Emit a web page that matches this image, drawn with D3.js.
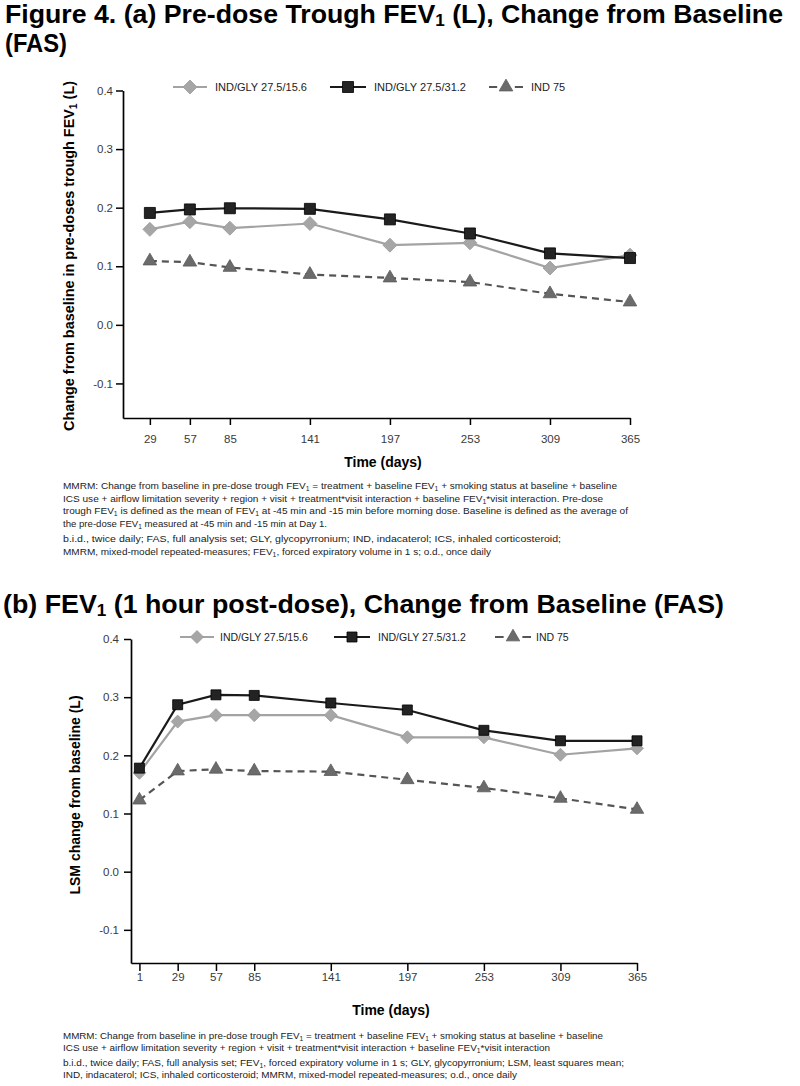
<!DOCTYPE html>
<html><head><meta charset="utf-8">
<script src="https://cdn.jsdelivr.net/npm/d3@7"></script>
<style>
body{margin:0;background:#fff}
svg{display:block}
text{font-family:"Liberation Sans",Arial,sans-serif}
</style>
</head><body>
<svg id="c" width="800" height="1086"></svg>
<script>
// ---------- data ----------
const seriesNames = ["IND/GLY 27.5/15.6", "IND/GLY 27.5/31.2", "IND 75"];
const daysA = [29, 57, 85, 141, 197, 253, 309, 365];
const daysB = [1, 29, 57, 85, 141, 197, 253, 309, 365];
const yTicks = [-0.1, 0.0, 0.1, 0.2, 0.3, 0.4];
// (a) pre-dose trough FEV1
const aGly156 = [0.163, 0.176, 0.165, 0.173, 0.136, 0.140, 0.097, 0.119];
const aGly312 = [0.191, 0.197, 0.199, 0.198, 0.180, 0.156, 0.122, 0.114];
const aInd75  = [0.109, 0.107, 0.098, 0.086, 0.080, 0.073, 0.053, 0.039];
// (b) FEV1 1 hour post-dose
const bGly156 = [0.170, 0.258, 0.269, 0.269, 0.269, 0.231, 0.231, 0.201, 0.212];
const bGly312 = [0.178, 0.287, 0.304, 0.303, 0.290, 0.278, 0.243, 0.225, 0.225];
const bInd75  = [0.123, 0.173, 0.176, 0.173, 0.172, 0.158, 0.144, 0.126, 0.107];

const titleA1 = "Figure 4. (a) Pre-dose Trough FEV_1 (L), Change from Baseline";
const titleA2 = "(FAS)";
const titleB  = "(b) FEV_1 (1 hour post-dose), Change from Baseline (FAS)";
const yLabelA = "Change from baseline in pre-doses trough FEV_1 (L)";
const yLabelB = "LSM change from baseline (L)";
const xLabel  = "Time (days)";
const notesA = [
  "MMRM: Change from baseline in pre-dose trough FEV_1 = treatment + baseline FEV_1 + smoking status at baseline + baseline",
  "ICS use + airflow limitation severity + region + visit + treatment*visit interaction + baseline FEV_1*visit interaction. Pre-dose",
  "trough FEV_1 is defined as the mean of FEV_1 at -45 min and -15 min before morning dose. Baseline is defined as the average of",
  "the pre-dose FEV_1 measured at -45 min and -15 min at Day 1.",
  "b.i.d., twice daily; FAS, full analysis set; GLY, glycopyrronium; IND, indacaterol; ICS, inhaled corticosteroid;",
  "MMRM, mixed-model repeated-measures; FEV_1, forced expiratory volume in 1 s; o.d., once daily"
];
const notesB = [
  "MMRM: Change from baseline in pre-dose trough FEV_1 = treatment + baseline FEV_1 + smoking status at baseline + baseline",
  "ICS use + airflow limitation severity + region + visit + treatment*visit interaction + baseline FEV_1*visit interaction",
  "b.i.d., twice daily; FAS, full analysis set; FEV_1, forced expiratory volume in 1 s; GLY, glycopyrronium; LSM, least squares mean;",
  "IND, indacaterol; ICS, inhaled corticosteroid; MMRM, mixed-model repeated-measures; o.d., once daily"
];

// ---------- helpers ----------
const svg = d3.select("#c");

function rich(t, str, subSize, subDy) {
  const parts = str.split("_1");
  parts.forEach((p, i) => {
    if (i > 0) {
      t.append("tspan").attr("font-size", subSize).attr("dy", subDy).text("1");
      if (p !== "") t.append("tspan").attr("dy", -subDy).text(p);
    } else if (p !== "") t.append("tspan").text(p);
  });
  return t;
}

function text(x, y, str, o) {
  const t = svg.append("text").attr("x", x).attr("y", y)
    .attr("font-size", o.size).attr("fill", o.fill || "#000")
    .attr("font-weight", o.bold ? "bold" : null)
    .attr("text-anchor", o.anchor || "start");
  if (o.rotate) t.attr("transform", `rotate(-90 ${x} ${y})`);
  rich(t, str, o.subSize || o.size * 0.7, o.subDy || o.size * 0.2);
  if (o.len) t.attr("textLength", o.len).attr("lengthAdjust", "spacingAndGlyphs");
  return t;
}

const styles = [
  {shape: "diamond", line: "#a3a3a3", fill: "#a6a6a6", stroke: "#9a9a9a", dash: null},
  {shape: "square",  line: "#1a1a1a", fill: "#232323", stroke: "#000",    dash: null},
  {shape: "triangle",line: "#555555", fill: "#6b6b6b", stroke: "#5a5a5a", dash: "7,5"}
];

function markerPath(shape, s) {
  if (shape === "square") return d3.symbol(d3.symbolSquare, s.sq * s.sq)();
  if (shape === "diamond") {
    const r = s.dia;
    return `M0,${-r}L${r},0L0,${r}L${-r},0Z`;
  }
  return d3.symbol(d3.symbolTriangle, s.tri)();
}

function panel(cfg) {
  const x = d3.scaleLinear().domain(cfg.xDomain).range(cfg.xRange);
  const y = d3.scaleLinear().domain(cfg.yDomain).range(cfg.yRange);
  const g = svg.append("g");

  const yAxis = g.append("g").attr("transform", `translate(${cfg.xRange[0]},0)`)
    .call(d3.axisLeft(y).tickValues(yTicks).tickFormat(d => d.toFixed(1))
      .tickSize(7).tickSizeOuter(0).tickPadding(cfg.yPad));
  const xAxis = g.append("g").attr("transform", `translate(0,${cfg.yRange[0]})`)
    .call(d3.axisBottom(x).tickValues(cfg.days).tickFormat(d3.format("d"))
      .tickSize(cfg.xTick).tickSizeOuter(0).tickPadding(cfg.xPad));
  [yAxis, xAxis].forEach(a => {
    a.select(".domain").attr("stroke", "#000").attr("stroke-width", 1.7);
    a.selectAll(".tick line").attr("stroke", "#000").attr("stroke-width", 1.5);
    a.selectAll(".tick text").attr("fill", "#3a3a3a").attr("font-size", 11.5)
      .attr("font-family", '"Liberation Sans",Arial,sans-serif');
  });

  const data = [cfg.s156, cfg.s312, cfg.i75];
  const order = [2, 0, 1];
  order.forEach(k => {
    const st = styles[k];
    const pts = cfg.days.map((d, i) => [x(d), y(data[k][i])]);
    g.append("path").attr("d", d3.line()(pts)).attr("fill", "none")
      .attr("stroke", st.line).attr("stroke-width", 2.2)
      .attr("stroke-dasharray", st.dash);
    g.selectAll(null).data(pts).join("path")
      .attr("transform", p => `translate(${p[0]},${p[1]})`)
      .attr("d", markerPath(st.shape, cfg.mk))
      .attr("fill", st.fill).attr("stroke", st.stroke).attr("stroke-width", 0.8);
  });

  // legend
  cfg.legend.forEach((L, k) => {
    const st = styles[k];
    const ln = g.append("line").attr("x1", L.x0).attr("x2", L.x1)
      .attr("y1", cfg.legY).attr("y2", cfg.legY)
      .attr("stroke", st.line).attr("stroke-width", 2.2);
    if (st.dash) ln.attr("stroke-dasharray", `${(L.x1 - L.x0) * 0.24},${(L.x1 - L.x0) * 0.52}`);
    g.append("path").attr("transform", `translate(${(L.x0 + L.x1) / 2},${cfg.legY})`)
      .attr("d", markerPath(st.shape, cfg.mk))
      .attr("fill", st.fill).attr("stroke", st.stroke).attr("stroke-width", 0.8);
    text(L.tx, cfg.legY + 4, seriesNames[k], {size: cfg.legSize, fill: "#222"});
  });

  text(cfg.xLabX, cfg.xLabY, xLabel, {size: 14, bold: true, anchor: "middle"});
  text(cfg.yLabX, cfg.yLabY, cfg.yLabel, {size: 14, bold: true, anchor: "middle", rotate: true,
    subSize: 10, subDy: 3, len: cfg.yLabLen});
}

// ---------- titles ----------
text(5, 23, titleA1, {size: 25, bold: true, subSize: 16, subDy: 3, len: 778});
text(5, 52, titleA2, {size: 25, bold: true, len: 62});
text(3, 613, titleB, {size: 25, bold: true, subSize: 16, subDy: 3, len: 721});

// ---------- panel a ----------
panel({
  days: daysA, s156: aGly156, s312: aGly312, i75: aInd75,
  xDomain: [10.2, 365], xRange: [123, 630],
  yDomain: [-0.159, 0.4], yRange: [418, 90.5],
  yPad: 3, xTick: 7, xPad: 10,
  mk: {sq: 11, dia: 7, tri: 80},
  legY: 87, legSize: 11,
  legend: [{x0: 173, x1: 207, tx: 215}, {x0: 330, x1: 366, tx: 374}, {x0: 489, x1: 523, tx: 531}],
  xLabX: 383, xLabY: 467,
  yLabel: yLabelA, yLabX: 74, yLabY: 256, yLabLen: 350
});

// ---------- panel b ----------
panel({
  days: daysB, s156: bGly156, s312: bGly312, i75: bInd75,
  xDomain: [-5.15, 365], xRange: [131, 637],
  yDomain: [-0.157, 0.4], yRange: [963, 639],
  yPad: 5, xTick: 8, xPad: 2,
  mk: {sq: 10, dia: 6.5, tri: 78},
  legY: 637, legSize: 10.5,
  legend: [{x0: 180, x1: 214, tx: 220}, {x0: 334, x1: 370, tx: 378}, {x0: 495, x1: 531, tx: 536}],
  xLabX: 391, xLabY: 1015,
  yLabel: yLabelB, yLabX: 80, yLabY: 795, yLabLen: null
});

// ---------- footnotes ----------
const lensA = [554, 540, 565, 264, 498, 428];
const ysA = [489, 501.5, 514, 526.5, 542, 554.5];
notesA.forEach((s, i) => text(63, ysA[i], s, {size: 9.5, fill: "#222", subSize: 6.5, subDy: 2, len: lensA[i]}));
const lensB = [540, 487, 561, 454];
const ysB = [1038.5, 1051, 1065.5, 1078];
notesB.forEach((s, i) => text(63, ysB[i], s, {size: 9.5, fill: "#222", subSize: 6.5, subDy: 2, len: lensB[i]}));
</script>
</body></html>
